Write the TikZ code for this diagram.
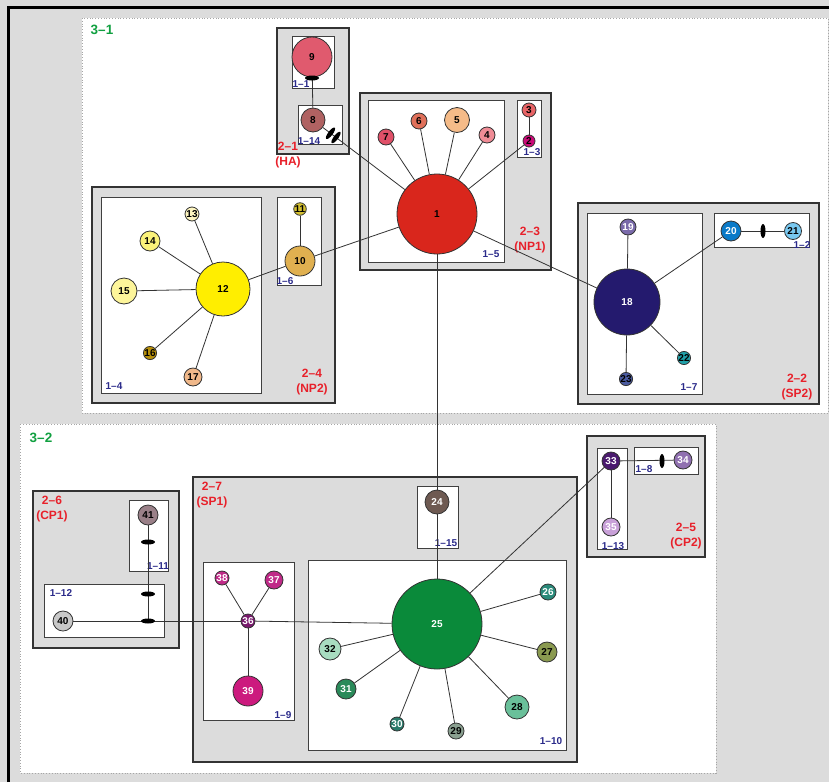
\documentclass[tikz,border=0pt]{standalone}
\usepackage{fontspec}
\setmainfont{Liberation Sans}
\usetikzlibrary{shapes,calc}

\definecolor{bgg}{HTML}{DCDCDC}
\definecolor{redlab}{HTML}{E8202A}
\definecolor{navy}{HTML}{2A2A8A}
\definecolor{greenlab}{HTML}{10A040}
\definecolor{c1}{HTML}{D9261C}
\definecolor{c2}{HTML}{CC0A78}
\definecolor{c3}{HTML}{E86466}
\definecolor{c4}{HTML}{F08C96}
\definecolor{c5}{HTML}{F5BB88}
\definecolor{c6}{HTML}{E0705A}
\definecolor{c7}{HTML}{E05068}
\definecolor{c8}{HTML}{B06262}
\definecolor{c9}{HTML}{E05A6E}
\definecolor{c10}{HTML}{E0B050}
\definecolor{c11}{HTML}{D4C030}
\definecolor{c12}{HTML}{FFEE00}
\definecolor{c13}{HTML}{FDF5C0}
\definecolor{c14}{HTML}{FBF27A}
\definecolor{c15}{HTML}{FDF59A}
\definecolor{c16}{HTML}{B8900A}
\definecolor{c17}{HTML}{F0B88A}
\definecolor{c18}{HTML}{241A6E}
\definecolor{c19}{HTML}{7A6AAA}
\definecolor{c20}{HTML}{0A7AC8}
\definecolor{c21}{HTML}{78C8F0}
\definecolor{c22}{HTML}{20A0A8}
\definecolor{c23}{HTML}{4A5AA0}
\definecolor{c24}{HTML}{6E5A52}
\definecolor{c25}{HTML}{0A8A3A}
\definecolor{c26}{HTML}{2A8A7A}
\definecolor{c27}{HTML}{8A9A50}
\definecolor{c28}{HTML}{6AC09A}
\definecolor{c29}{HTML}{8AA090}
\definecolor{c30}{HTML}{2A7A6A}
\definecolor{c31}{HTML}{2A8A5A}
\definecolor{c32}{HTML}{A8DCC0}
\definecolor{c33}{HTML}{4A1A6E}
\definecolor{c34}{HTML}{9070B0}
\definecolor{c35}{HTML}{C8A0D8}
\definecolor{c36}{HTML}{7A1A6E}
\definecolor{c37}{HTML}{C02A88}
\definecolor{c39}{HTML}{CC1A7E}
\definecolor{c40}{HTML}{C8C8C8}
\definecolor{c41}{HTML}{9A8088}

\begin{document}
\begin{tikzpicture}[x=1pt,y=-1pt,
    hap/.style={circle, draw=black!80, line width=0.8pt, fill=#1, inner sep=0pt, font=\fontsize{10}{10}\selectfont\bfseries},
    wt/.style={text=white},
    grp/.style={draw=black!80, line width=1.4pt, fill=bgg},
    sub/.style={draw=black!75, line width=0.9pt, fill=white},
    region/.style={draw=gray!70, dotted, line width=0.8pt, fill=white},
    link/.style={draw=black!80, line width=0.8pt},
    hlab/.style={text=navy, inner sep=0pt, font=\fontsize{10}{10}\selectfont\bfseries},
    glab/.style={text=redlab, align=center, inner sep=0pt, font=\fontsize{12}{15}\selectfont\bfseries},
    rlab/.style={text=greenlab, inner sep=0pt, font=\fontsize{13.5}{14}\selectfont\bfseries}]
    \useasboundingbox (0,0) rectangle (829,782);
    \fill[bgg] (0,0) rectangle (829,782);
    \draw[line width=3pt] (8.5,782) -- (8.5,7.5) -- (829,7.5);

    % Clusters
    \draw[region] (82,18) rectangle (828,413);
    \draw[region] (20,424) rectangle (716,773);
    \node[rlab] (r31) at (102,30) {3--1};
    \node[rlab] (r32) at (41,438) {3--2};

    % Groups
    \draw[grp] (277,28) rectangle (349,154);
    \draw[grp] (360,93) rectangle (551,270);
    \draw[grp] (92,187) rectangle (335,403);
    \draw[grp] (578,203) rectangle (819,404);
    \draw[grp] (33,491) rectangle (179,648);
    \draw[grp] (587,436) rectangle (705,557);
    \draw[grp] (193,477) rectangle (577,762);

    % Subgroups
    \draw[sub] (292,36) rectangle (334,88);
    \draw[sub] (298,105) rectangle (342,144);
    \draw[sub] (368,100) rectangle (504,262);
    \draw[sub] (517,100) rectangle (541,157);
    \draw[sub] (101,197) rectangle (261,393);
    \draw[sub] (277,197) rectangle (321,285);
    \draw[sub] (587,213) rectangle (702,394);
    \draw[sub] (714,213) rectangle (809,247);
    \draw[sub] (129,500) rectangle (168,571);
    \draw[sub] (44,584) rectangle (164,637);
    \draw[sub] (597,448) rectangle (627,549);
    \draw[sub] (634,447) rectangle (698,474);
    \draw[sub] (203,562) rectangle (294,720);
    \draw[sub] (308,560) rectangle (566,750);
    \draw[sub] (417,486) rectangle (458,548);

    % Group labels
    \node[glab] (g21) at (288,155.5) {2--1\\(HA)};
    \node[glab] (g23) at (530,240) {2--3\\(NP1)};
    \node[glab] (g24) at (312,382) {2--4\\(NP2)};
    \node[glab] (g22) at (797,387) {2--2\\(SP2)};
    \node[glab] (g26) at (52,509) {2--6\\(CP1)};
    \node[glab] (g25) at (686,536) {2--5\\(CP2)};
    \node[glab] (g27) at (212,495) {2--7\\(SP1)};

    % Subgroup labels
    \node[hlab] (h11) at (301,84) {1--1};
    \node[hlab] (h114) at (309,141) {1--14};
    \node[hlab] (h13) at (532,152) {1--3};
    \node[hlab] (h15) at (491,254) {1--5};
    \node[hlab] (h14) at (114,386) {1--4};
    \node[hlab] (h16) at (285,281) {1--6};
    \node[hlab] (h17) at (689,387) {1--7};
    \node[hlab] (h12) at (802,245) {1--2};
    \node[hlab] (h111) at (158,566) {1--11};
    \node[hlab] (h112) at (61,593) {1--12};
    \node[hlab] (h113) at (613,546) {1--13};
    \node[hlab] (h18) at (644,469) {1--8};
    \node[hlab] (h19) at (283,715) {1--9};
    \node[hlab] (h110) at (551,741) {1--10};
    \node[hlab] (h115) at (446,543) {1--15};

    % Haplotypes
    \node[hap=c9, minimum size=40pt] (n9) at (312,57) {9};
    \node[hap=c8, minimum size=24pt] (n8) at (313,120) {8};
    \node[hap=c1, minimum size=80pt] (n1) at (437,214) {1};
    \node[hap=c2, minimum size=12pt] (n2) at (529,141) {2};
    \node[hap=c3, minimum size=14pt] (n3) at (529,110) {3};
    \node[hap=c4, minimum size=16pt] (n4) at (487,135) {4};
    \node[hap=c5, minimum size=25pt] (n5) at (457,120) {5};
    \node[hap=c6, minimum size=16pt] (n6) at (419,121) {6};
    \node[hap=c7, minimum size=16pt] (n7) at (386,137) {7};
    \node[hap=c10, minimum size=30pt] (n10) at (300,261) {10};
    \node[hap=c11, minimum size=12pt] (n11) at (300,209) {11};
    \node[hap=c12, minimum size=54pt] (n12) at (223,289) {12};
    \node[hap=c13, minimum size=14pt] (n13) at (192,214) {13};
    \node[hap=c14, minimum size=20pt] (n14) at (150,241) {14};
    \node[hap=c15, minimum size=26pt] (n15) at (124,291) {15};
    \node[hap=c16, minimum size=12pt] (n16) at (150,353) {16};
    \node[hap=c17, minimum size=18pt] (n17) at (193,377) {17};
    \node[hap=c18, wt, minimum size=66pt] (n18) at (627,302) {18};
    \node[hap=c19, wt, minimum size=16pt] (n19) at (628,227) {19};
    \node[hap=c20, wt, minimum size=20pt] (n20) at (731,231) {20};
    \node[hap=c21, minimum size=17pt] (n21) at (793,231) {21};
    \node[hap=c22, minimum size=12pt] (n22) at (684,358) {22};
    \node[hap=c23, minimum size=12pt] (n23) at (626,379) {23};
    \node[hap=c24, wt, minimum size=24pt] (n24) at (437,502) {24};
    \node[hap=c25, wt, minimum size=90pt] (n25) at (437,624) {25};
    \node[hap=c26, wt, minimum size=16pt] (n26) at (548,592) {26};
    \node[hap=c27, minimum size=20pt] (n27) at (547,652) {27};
    \node[hap=c28, minimum size=24pt] (n28) at (517,707) {28};
    \node[hap=c29, minimum size=16pt] (n29) at (456,731) {29};
    \node[hap=c30, wt, minimum size=14pt] (n30) at (397,724) {30};
    \node[hap=c31, wt, minimum size=20pt] (n31) at (346,689) {31};
    \node[hap=c32, minimum size=22pt] (n32) at (330,649) {32};
    \node[hap=c33, wt, minimum size=18pt] (n33) at (611,461) {33};
    \node[hap=c34, wt, minimum size=18pt] (n34) at (683,460) {34};
    \node[hap=c35, wt, minimum size=18pt] (n35) at (611,527) {35};
    \node[hap=c36, wt, minimum size=14pt] (n36) at (248,621) {36};
    \node[hap=c37, wt, minimum size=18pt] (n37) at (274,580) {37};
    \node[hap=c37, wt, minimum size=14pt] (n38) at (222,578) {38};
    \node[hap=c39, wt, minimum size=30pt] (n39) at (248,691) {39};
    \node[hap=c40, minimum size=20pt] (n40) at (63,621) {40};
    \node[hap=c41, minimum size=20pt] (n41) at (148,515) {41};
    \coordinate (j) at (148,621);

    % Links
    \draw[link] (n9) -- (n8);
    \draw[link] (n8) -- (n1);
    \draw[link] (n1) -- (n7);
    \draw[link] (n1) -- (n6);
    \draw[link] (n1) -- (n5);
    \draw[link] (n1) -- (n4);
    \draw[link] (n1) -- (n2);
    \draw[link] (n2) -- (n3);
    \draw[link] (n1) -- (n10);
    \draw[link] (n10) -- (n11);
    \draw[link] (n10) -- (n12);
    \draw[link] (n12) -- (n13);
    \draw[link] (n12) -- (n14);
    \draw[link] (n12) -- (n15);
    \draw[link] (n12) -- (n16);
    \draw[link] (n12) -- (n17);
    \draw[link] (n1) -- (n18);
    \draw[link] (n18) -- (n19);
    \draw[link] (n18) -- (n20);
    \draw[link] (n18) -- (n22);
    \draw[link] (n18) -- (n23);
    \draw[link] (n20) -- (n21);
    \draw[link] (n1) -- (n24);
    \draw[link] (n24) -- (n25);
    \draw[link] (n25) -- (n26);
    \draw[link] (n25) -- (n27);
    \draw[link] (n25) -- (n28);
    \draw[link] (n25) -- (n29);
    \draw[link] (n25) -- (n30);
    \draw[link] (n25) -- (n31);
    \draw[link] (n25) -- (n32);
    \draw[link] (n25) -- (n33);
    \draw[link] (n33) -- (n34);
    \draw[link] (n33) -- (n35);
    \draw[link] (n25) -- (n36);
    \draw[link] (n36) -- (n37);
    \draw[link] (n36) -- (n38);
    \draw[link] (n36) -- (n39);
    \draw[link] (n36) -- (n40);
    \draw[link] (n41) -- (j);

    % Mutation marks
    \fill (312,78) ellipse (7pt and 2.5pt);
    \fill[rotate around={53:(330.5,133.3)}] (330.5,133.3) ellipse (7pt and 2.3pt);
    \fill[rotate around={53:(336,137.5)}] (336,137.5) ellipse (7pt and 2.3pt);
    \fill (763,231) ellipse (2.5pt and 7pt);
    \fill (662,461) ellipse (2.5pt and 7pt);
    \fill (148,542) ellipse (7pt and 2.5pt);
    \fill (148,594) ellipse (7pt and 2.5pt);
    \fill (148,621) ellipse (7pt and 2.5pt);
\end{tikzpicture}
\end{document}
